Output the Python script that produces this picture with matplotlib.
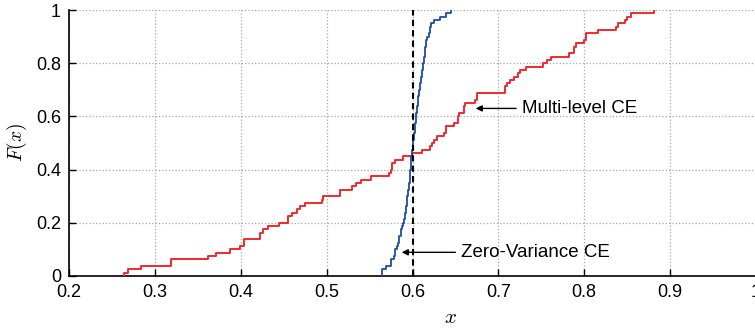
import numpy as np
import matplotlib
matplotlib.use("Agg")
import matplotlib.pyplot as plt

plt.rcParams['font.family'] = ['Liberation Sans', 'DejaVu Sans']
plt.rcParams['mathtext.fontset'] = 'cm'

# Multi-level CE samples (80 values)
red_samples = [
    0.2638, 0.2685, 0.2837, 0.3183, 0.3183, 0.3621, 0.3707, 0.3877, 0.3990, 0.4040,
    0.4040, 0.4223, 0.4223, 0.4261, 0.4313, 0.4444, 0.4553, 0.4553, 0.4599, 0.4651,
    0.4689, 0.4747, 0.4942, 0.4957, 0.5155, 0.5155, 0.5291, 0.5338, 0.5396, 0.5513,
    0.5729, 0.5749, 0.5757, 0.5764, 0.5796, 0.5893, 0.5990, 0.6107, 0.6204, 0.6223,
    0.6250, 0.6282, 0.6367, 0.6390, 0.6390, 0.6483, 0.6524, 0.6533, 0.6545, 0.6594,
    0.6603, 0.6611, 0.6728, 0.6748, 0.6748, 0.7077, 0.7077, 0.7097, 0.7136, 0.7182,
    0.7232, 0.7252, 0.7322, 0.7520, 0.7570, 0.7613, 0.7823, 0.7885, 0.7885, 0.7905,
    0.8001, 0.8018, 0.8018, 0.8164, 0.8371, 0.8397, 0.8476, 0.8495, 0.8542, 0.8813,
]

# Zero-Variance CE samples (80 values)
blue_samples = [
    0.5641, 0.5641, 0.5691, 0.5746, 0.5746, 0.5784, 0.5790, 0.5796, 0.5816, 0.5825,
    0.5837, 0.5846, 0.5862, 0.5869, 0.5880, 0.5893, 0.5900, 0.5908, 0.5914, 0.5919,
    0.5924, 0.5930, 0.5935, 0.5940, 0.5946, 0.5951, 0.5957, 0.5961, 0.5966, 0.5971,
    0.5973, 0.5975, 0.5978, 0.5980, 0.5982, 0.5987, 0.5992, 0.5997, 0.6002, 0.6007,
    0.6011, 0.6016, 0.6021, 0.6025, 0.6029, 0.6034, 0.6037, 0.6041, 0.6045, 0.6050,
    0.6055, 0.6059, 0.6064, 0.6068, 0.6074, 0.6079, 0.6084, 0.6089, 0.6096, 0.6103,
    0.6110, 0.6115, 0.6121, 0.6126, 0.6130, 0.6135, 0.6140, 0.6145, 0.6150, 0.6155,
    0.6159, 0.6165, 0.6192, 0.6198, 0.6204, 0.6212, 0.6250, 0.6320, 0.6390, 0.6445,
]

threshold = 0.6
x_ticks = [0.2, 0.3, 0.4, 0.5, 0.6, 0.7, 0.8, 0.9, 1.0]
x_tick_labels = ['0.2', '0.3', '0.4', '0.5', '0.6', '0.7', '0.8', '0.9', '1']
y_ticks = [0, 0.2, 0.4, 0.6, 0.8, 1.0]
y_tick_labels = ['0', '0.2', '0.4', '0.6', '0.8', '1']


def ecdf_steps(samples):
    s = np.sort(np.asarray(samples))
    n = len(s)
    F = np.arange(1, n + 1) / n
    xs = np.concatenate([[s[0]], s])
    ys = np.concatenate([[0.0], F])
    return xs, ys


fig = plt.figure(figsize=(7.55, 3.29), dpi=100)
ax = fig.add_axes([0.0917, 0.1611, 0.9094, 0.8085])

rx, ry = ecdf_steps(red_samples)
bx, by = ecdf_steps(blue_samples)
ax.step(rx, ry, where='post', color='#ee2a2e', lw=1.4, zorder=3)
ax.step(bx, by, where='post', color='#1f4e9e', lw=1.3, zorder=3)
ax.plot([threshold, threshold], [0, 1], color='k', lw=1.5, ls=(0, (3, 2)), zorder=4)

ax.set_xlim(0.2, 1.0)
ax.set_ylim(0, 1)
ax.set_xticks(x_ticks)
ax.set_xticklabels(x_tick_labels)
ax.set_yticks(y_ticks)
ax.set_yticklabels(y_tick_labels)
ax.tick_params(direction='in', length=5, width=1, labelsize=13, pad=6, colors='k')
ax.grid(True, ls=':', color='#a8a8a8', lw=0.9)
ax.set_axisbelow(True)
for sp in ['top', 'right']:
    ax.spines[sp].set_visible(False)
for sp in ['left', 'bottom']:
    ax.spines[sp].set_linewidth(1.2)

ax.set_xlabel(r'$x$', fontsize=15, va='center')
ax.xaxis.set_label_coords(0.555, -0.155)
ax.set_ylabel(r'$F(x)$', fontsize=14, va='center', ha='center')
ax.yaxis.set_label_coords(-0.076, 0.5)

arrow = dict(arrowstyle='-|>', color='k', lw=1.0, mutation_scale=9, shrinkA=2, shrinkB=0)
ax.annotate('Multi-level CE', xy=(0.6736, 0.630), xytext=(0.7272, 0.630),
            ha='left', va='center', fontsize=13.5, arrowprops=arrow)
ax.annotate('Zero-Variance CE', xy=(0.5874, 0.089), xytext=(0.6565, 0.089),
            ha='left', va='center', fontsize=13.5, arrowprops=arrow)

fig.savefig('out.png', dpi=100)
